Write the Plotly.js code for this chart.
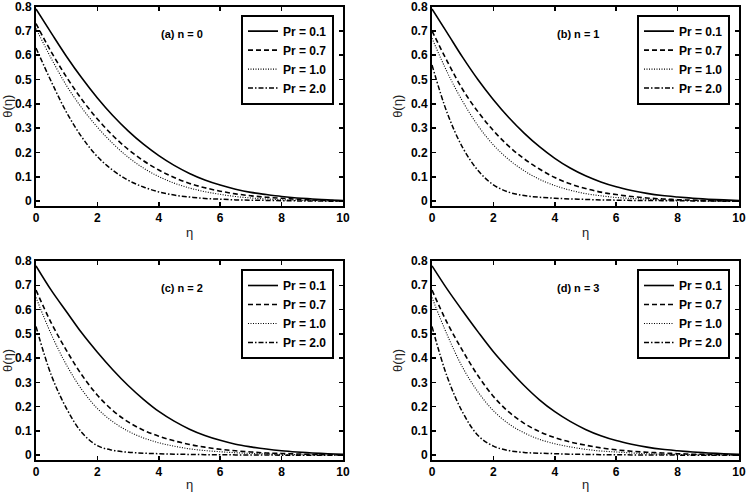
<!DOCTYPE html>
<html>
<head>
<meta charset="utf-8">
<script src="https://cdn.plot.ly/plotly-3.0.1.min.js"></script>
<style>html,body{margin:0;padding:0;background:#fff;}#chart{width:748px;height:492px;}</style>
</head>
<body>
<div id="chart"></div>
<script>
// ---- data ----
const eta = [0, 0.5, 1, 1.5, 2, 2.5, 3, 3.5, 4, 4.5, 5, 5.5, 6, 6.5, 7, 7.5, 8, 8.5, 9, 9.5, 10];
const seriesNames = ["Pr = 0.1", "Pr = 0.7", "Pr = 1.0", "Pr = 2.0"];
const panelLabels = ["(a) n = 0", "(b) n = 1", "(c) n = 2", "(d) n = 3"];
const yTickVals = [0, 0.1, 0.2, 0.3, 0.4, 0.5, 0.6, 0.7, 0.8];
const yTickText = ["0", "0.1", "0.2", "0.3", "0.4", "0.5", "0.6", "0.7", "0.8"];
const xTickVals = [0, 2, 4, 6, 8, 10];

// panel (a) n = 0
const a_Pr01 = [0.79, 0.691, 0.594, 0.505, 0.424, 0.352, 0.289, 0.234, 0.187, 0.147, 0.114, 0.087, 0.066, 0.049, 0.036, 0.027, 0.019, 0.013, 0.009, 0.005, 0.002];
const a_Pr07 = [0.73, 0.613, 0.509, 0.417, 0.338, 0.270, 0.213, 0.166, 0.128, 0.097, 0.073, 0.055, 0.041, 0.030, 0.022, 0.016, 0.012, 0.008, 0.005, 0.003, 0.001];
const a_Pr10 = [0.71, 0.586, 0.474, 0.382, 0.304, 0.237, 0.181, 0.136, 0.101, 0.074, 0.054, 0.039, 0.028, 0.019, 0.013, 0.009, 0.006, 0.004, 0.002, 0.001, 0];
const a_Pr20 = [0.63, 0.491, 0.364, 0.262, 0.183, 0.127, 0.086, 0.058, 0.038, 0.025, 0.017, 0.011, 0.008, 0.005, 0.004, 0.003, 0.002, 0.001, 0.001, 0, 0];
// panel (b) n = 1
const b_Pr01 = [0.79, 0.691, 0.591, 0.499, 0.417, 0.344, 0.280, 0.224, 0.176, 0.136, 0.104, 0.079, 0.059, 0.044, 0.032, 0.023, 0.017, 0.012, 0.008, 0.005, 0.002];
const b_Pr07 = [0.70, 0.574, 0.459, 0.367, 0.290, 0.226, 0.174, 0.132, 0.097, 0.071, 0.052, 0.037, 0.027, 0.019, 0.013, 0.009, 0.006, 0.004, 0.002, 0.001, 0];
const b_Pr10 = [0.67, 0.529, 0.410, 0.310, 0.231, 0.171, 0.125, 0.090, 0.064, 0.045, 0.031, 0.022, 0.015, 0.011, 0.008, 0.005, 0.004, 0.002, 0.001, 0.001, 0];
const b_Pr20 = [0.56, 0.361, 0.220, 0.126, 0.067, 0.037, 0.023, 0.016, 0.012, 0.009, 0.007, 0.005, 0.004, 0.003, 0.003, 0.002, 0.002, 0.001, 0.001, 0, 0];
// panel (c) n = 2
const c_Pr01 = [0.78, 0.679, 0.590, 0.502, 0.424, 0.352, 0.287, 0.230, 0.180, 0.140, 0.107, 0.081, 0.061, 0.045, 0.034, 0.025, 0.018, 0.013, 0.009, 0.006, 0.003];
const c_Pr07 = [0.68, 0.544, 0.430, 0.329, 0.247, 0.184, 0.137, 0.103, 0.078, 0.059, 0.044, 0.033, 0.024, 0.018, 0.013, 0.009, 0.007, 0.005, 0.003, 0.002, 0.001];
const c_Pr10 = [0.65, 0.497, 0.370, 0.269, 0.192, 0.138, 0.099, 0.071, 0.051, 0.037, 0.026, 0.019, 0.014, 0.010, 0.007, 0.005, 0.003, 0.002, 0.001, 0.001, 0];
const c_Pr20 = [0.53, 0.329, 0.191, 0.092, 0.039, 0.020, 0.012, 0.008, 0.006, 0.004, 0.003, 0.002, 0.002, 0.001, 0.001, 0.001, 0, 0, 0, 0, 0];
// panel (d) n = 3
const d_Pr01 = [0.78, 0.683, 0.594, 0.508, 0.426, 0.354, 0.287, 0.228, 0.179, 0.139, 0.106, 0.080, 0.060, 0.045, 0.033, 0.024, 0.018, 0.013, 0.009, 0.006, 0.003];
const d_Pr07 = [0.68, 0.544, 0.430, 0.327, 0.242, 0.178, 0.131, 0.097, 0.072, 0.054, 0.041, 0.030, 0.022, 0.016, 0.012, 0.009, 0.006, 0.004, 0.003, 0.002, 0.001];
const d_Pr10 = [0.65, 0.494, 0.361, 0.260, 0.183, 0.129, 0.092, 0.065, 0.047, 0.034, 0.024, 0.017, 0.013, 0.009, 0.006, 0.004, 0.003, 0.002, 0.001, 0.001, 0];
const d_Pr20 = [0.53, 0.321, 0.176, 0.081, 0.037, 0.019, 0.011, 0.008, 0.006, 0.004, 0.003, 0.002, 0.002, 0.001, 0.001, 0.001, 0, 0, 0, 0, 0];

const panels = [
  [a_Pr01, a_Pr07, a_Pr10, a_Pr20],
  [b_Pr01, b_Pr07, b_Pr10, b_Pr20],
  [c_Pr01, c_Pr07, c_Pr10, c_Pr20],
  [d_Pr01, d_Pr07, d_Pr10, d_Pr20]
];

// ---- styling / layout ----
const W = 748, H = 492;
const FONT = "Arial, 'Liberation Sans', sans-serif";
const dashes = ["solid", "5px,3px", "1px,1.5px", "5px,2px,1.5px,2px"];
const widths = [1.6, 1.6, 1.1, 1.5];
// plot boxes in pixels: [left, right, top, bottom]
const boxes = [
  [36, 343, 6.6, 206],
  [432, 739, 6.6, 206],
  [36, 343, 261, 460],
  [432, 739, 261, 460]
];

const traces = [];
const layout = {
  width: W, height: H,
  margin: {l: 0, r: 0, t: 0, b: 0},
  paper_bgcolor: "#fff", plot_bgcolor: "#fff",
  font: {family: FONT, color: "#000"},
  annotations: [],
  showlegend: true
};

panels.forEach((series, p) => {
  const ax = p === 0 ? "" : String(p + 1);
  const lg = p === 0 ? "legend" : "legend" + (p + 1);
  series.forEach((vals, i) => {
    traces.push({
      x: eta, y: vals, type: "scatter", mode: "lines",
      name: seriesNames[i],
      xaxis: "x" + ax, yaxis: "y" + ax,
      legend: lg,
      line: {color: "#000", width: widths[i], dash: dashes[i], shape: "spline", smoothing: 1},
      hoverinfo: "skip"
    });
  });
  const [l, r, t, b] = boxes[p];
  layout["xaxis" + ax] = {
    domain: [l / W, r / W], anchor: "y" + ax, range: [0, 10],
    tickvals: xTickVals, ticks: "inside", ticklen: 4, tickwidth: 1.5, tickcolor: "#000",
    showline: true, linewidth: 2, linecolor: "#000", mirror: "ticks",
    showgrid: false, zeroline: false, ticklabeloverflow: "allow",
    tickfont: {family: FONT, size: 12, color: "#000", weight: "bold"},
    title: {text: "η", font: {family: FONT, size: 13, color: "#222"}, standoff: 3}
  };
  layout["yaxis" + ax] = {
    domain: [1 - b / H, 1 - t / H], anchor: "x" + ax, range: [-0.02, 0.8],
    tickvals: yTickVals, ticktext: yTickText, ticks: "inside", ticklen: 4, tickwidth: 1.5, tickcolor: "#000",
    showline: true, linewidth: 2, linecolor: "#000", mirror: "ticks",
    showgrid: false, zeroline: false, ticklabeloverflow: "allow",
    tickfont: {family: FONT, size: 12, color: "#000", weight: "bold"},
    title: {text: "θ(η)", font: {family: FONT, size: 13, color: "#222"}, standoff: 5}
  };
  layout[lg] = {
    x: (r - 9) / W, xanchor: "right", xref: "paper",
    y: 1 - (t + 8) / H, yanchor: "top", yref: "paper",
    bgcolor: "#fff", bordercolor: "#000", borderwidth: 2,
    font: {family: FONT, size: 12, color: "#000", weight: "bold"},
    itemwidth: 30, tracegroupgap: 0
  };
  layout.annotations.push({
    text: panelLabels[p], xref: "paper", yref: "paper",
    x: (l + (r - l) * 0.475) / W, y: 1 - (t + 27) / H,
    xanchor: "center", yanchor: "middle", showarrow: false,
    font: {family: FONT, size: 11, color: "#000", weight: "bold"}
  });
});

Plotly.newPlot("chart", traces, layout, {staticPlot: true, displayModeBar: false});
</script>
</body>
</html>
